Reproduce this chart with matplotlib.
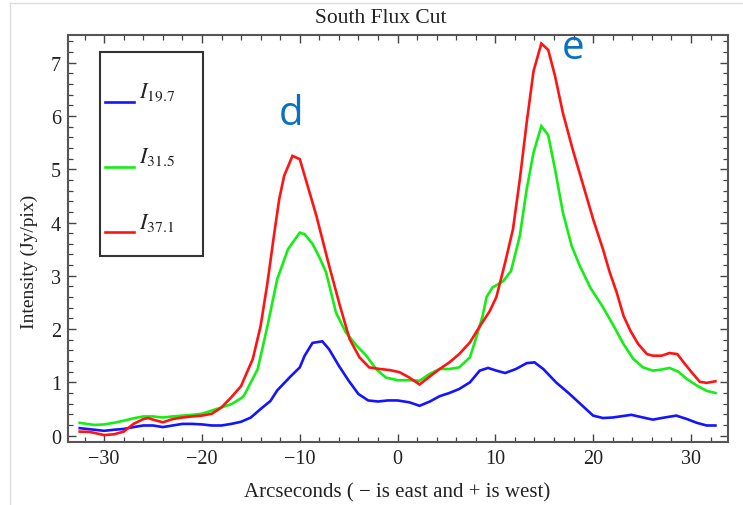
import matplotlib
matplotlib.use("Agg")
import matplotlib.pyplot as plt
from matplotlib.lines import Line2D
from matplotlib.patches import Rectangle
from matplotlib.ticker import MultipleLocator

plt.rcParams["font.family"] = ["Liberation Serif", "DejaVu Serif"]
plt.rcParams["mathtext.fontset"] = "stix"

# South cut intensity profiles (Jy/pix) against offset in arcseconds
x_197 = [-32.5, -31, -30, -29, -28, -27, -26, -25, -24, -23, -22, -21, -20, -19,
         -18, -17, -16, -15, -14, -13, -12.3, -11, -10, -9.5, -8.7, -7.7, -7,
         -6, -5, -4, -3, -2, -1, 0, 1.2, 2.25, 3.3, 4.3, 5.3, 6.3, 7.4, 8.4,
         9.25, 10.1, 11.0, 12.1, 13.2, 14.0, 14.9, 16.2, 17.6, 18.9, 20.0, 21.0,
         22.0, 23.9, 25.1, 26.1, 27.3, 28.5, 29.6, 30.6, 31.6, 32.5]
i_197 = [0.14, 0.11, 0.09, 0.11, 0.125, 0.16, 0.19, 0.19, 0.16, 0.19, 0.22, 0.22,
         0.21, 0.19, 0.19, 0.22, 0.26, 0.34, 0.5, 0.65, 0.85, 1.1, 1.28, 1.5,
         1.74, 1.77, 1.62, 1.31, 1.03, 0.78, 0.66, 0.64, 0.66, 0.66, 0.625, 0.56,
         0.64, 0.74, 0.8, 0.875, 1.0, 1.22, 1.27, 1.22, 1.175, 1.25, 1.36, 1.375,
         1.25, 1.0, 0.78, 0.56, 0.375, 0.33, 0.34, 0.39, 0.34, 0.3, 0.34, 0.375,
         0.31, 0.24, 0.19, 0.19]

x_315 = [-32.5, -31, -30, -29, -28, -27, -26, -25, -24, -23, -22, -21, -20, -19,
         -18, -17, -16, -15.7, -14.3, -13.3, -12.3, -11.2, -10.0, -9.5, -8.7,
         -8.0, -7.3, -6.3, -5.3, -4.2, -3.2, -2.2, -1.2, 0, 1.2, 2.25, 3.3, 4.3,
         5.3, 6.3, 7.4, 8.1, 8.7, 9.1, 9.7, 10.8, 11.6, 12.5, 13.2, 13.9, 14.7,
         15.4, 16.1, 16.9, 17.8, 18.6, 19.7, 21.0, 22.0, 23.1, 24.1, 25.1, 26.1,
         27.0, 27.8, 28.7, 29.6, 30.6, 31.6, 32.5]
i_315 = [0.24, 0.2, 0.21, 0.24, 0.28, 0.325, 0.36, 0.36, 0.34, 0.36, 0.375, 0.39,
         0.41, 0.47, 0.53, 0.59, 0.7, 0.75, 1.25, 2.06, 2.94, 3.5, 3.81, 3.78,
         3.6, 3.35, 3.06, 2.31, 1.94, 1.69, 1.5, 1.25, 1.09, 1.04, 1.04, 1.03,
         1.16, 1.25, 1.25, 1.28, 1.47, 1.875, 2.25, 2.6, 2.78, 2.9, 3.09, 3.75,
         4.625, 5.31, 5.81, 5.64, 5.0, 4.19, 3.56, 3.2, 2.78, 2.41, 2.09, 1.72,
         1.44, 1.28, 1.22, 1.24, 1.27, 1.2, 1.06, 0.94, 0.84, 0.8]

x_371 = [-32.5, -31.5, -30, -29, -28, -27, -26, -25.5, -25, -24, -23, -22, -21,
         -20, -19, -18, -17, -16, -15.7, -14.8, -14.0, -13.3, -12.6, -12.1,
         -11.6, -10.75, -10.0, -9.2, -8.3, -7.0, -5.9, -4.9, -3.9, -2.9, -1.8,
         -0.8, 0.2, 1.2, 2.25, 3.3, 4.3, 5.3, 6.3, 7.4, 8.4, 9.4, 10.1, 11.0,
         11.8, 12.5, 13.2, 13.9, 14.7, 15.4, 16.1, 16.9, 17.9, 18.9, 20.0, 21.0,
         21.7, 22.4, 23.1, 23.8, 24.6, 25.5, 26.1, 27.0, 27.8, 28.6, 29.4, 30.2,
         30.9, 31.6, 32.5]
i_371 = [0.075, 0.07, 0.01, 0.025, 0.075, 0.22, 0.31, 0.33, 0.3, 0.25, 0.31,
         0.34, 0.36, 0.375, 0.41, 0.53, 0.72, 0.93, 1.06, 1.44, 2.06, 2.875,
         3.81, 4.44, 4.875, 5.25, 5.19, 4.69, 4.125, 3.19, 2.44, 1.81, 1.47,
         1.28, 1.25, 1.23, 1.19, 1.09, 0.96, 1.11, 1.25, 1.375, 1.53, 1.75, 2.05,
         2.33, 2.6, 3.25, 3.875, 4.81, 5.875, 6.84, 7.36, 7.24, 6.75, 6.06,
         5.375, 4.75, 4.06, 3.5, 3.06, 2.69, 2.25, 1.97, 1.72, 1.53, 1.5, 1.5,
         1.55, 1.53, 1.34, 1.16, 1.01, 0.99, 1.02]

series_labels = [r"$I_{19.7}$", r"$I_{31.5}$", r"$I_{37.1}$"]
series_colors = ["#1414ff", "#14ee14", "#ff1414"]

title = "South Flux Cut"
xlabel = "Arcseconds ( \u2212 is east and + is west)"
ylabel = "Intensity (Jy/pix)"
peak_labels = ["d", "e"]
peak_pos = [(-10.85, 5.85), (17.9, 7.08)]

fig = plt.figure(figsize=(7.43, 5.06), dpi=100)
ax = fig.add_axes([0.0915, 0.1245, 0.8885, 0.8044])

series = [(x_197, i_197), (x_315, i_315), (x_371, i_371)]
for (xs, ys), col in zip(series, series_colors):
    ax.plot(xs, ys, color=col, lw=1.9, solid_joinstyle="miter")

ax.set_xlim(-33.7, 33.8)
ax.set_ylim(-0.12, 7.52)

ax.xaxis.set_major_locator(MultipleLocator(10))
ax.xaxis.set_minor_locator(MultipleLocator(2))
ax.yaxis.set_major_locator(MultipleLocator(1))
ax.yaxis.set_minor_locator(MultipleLocator(0.2))
ax.tick_params(which="both", direction="in", top=True, right=True,
               color="#444444", labelsize=14.5, labelcolor="#222222")
ax.tick_params(which="major", length=6, width=1.0, pad=5)
ax.tick_params(which="minor", length=3.5, width=0.9)
for sp in ax.spines.values():
    sp.set_color("#555555")
    sp.set_linewidth(1.5)

ax.xaxis.set_major_formatter(plt.FuncFormatter(
    lambda v, p: f"{int(round(v))}".replace("-", "\u2212")))

fig.text(0.513, 0.963, title, ha="center", va="center", fontsize=15.5,
         color="#222222")
fig.text(0.5343, 0.026, xlabel, ha="center", va="center", fontsize=15,
         color="#222222")
fig.text(0.04, 0.482, ylabel, ha="center", va="center", rotation=90,
         fontsize=14, color="#222222")

# legend box drawn in axes coordinates
box = Rectangle((0.0485, 0.457), 0.156, 0.501, transform=ax.transAxes,
                fill=False, edgecolor="#333333", lw=1.5, zorder=5)
ax.add_patch(box)
entry_y = [0.835, 0.676, 0.516]
for lab, col, yy in zip(series_labels, series_colors, entry_y):
    ax.add_line(Line2D([0.056, 0.1], [yy, yy], transform=ax.transAxes,
                       color=col, lw=1.9, zorder=6))
    ax.text(0.108, yy + 0.011, lab, transform=ax.transAxes, fontsize=16,
            ha="left", va="baseline", color="#222222", zorder=6)

for lab, (px, py) in zip(peak_labels, peak_pos):
    ax.text(px, py, lab, ha="center", va="baseline", fontsize=29,
            family=["Open Sans", "DejaVu Sans"], color="#0a70c0", zorder=7)

# faint slide border
fig.add_artist(Line2D([10 / 743, 1], [1 - 4 / 506, 1 - 4 / 506],
                      transform=fig.transFigure, color="#dddddd", lw=1))
fig.add_artist(Line2D([10 / 743, 10 / 743], [0, 1 - 4 / 506],
                      transform=fig.transFigure, color="#dddddd", lw=1))

fig.savefig("out.png", dpi=100, facecolor="white")
